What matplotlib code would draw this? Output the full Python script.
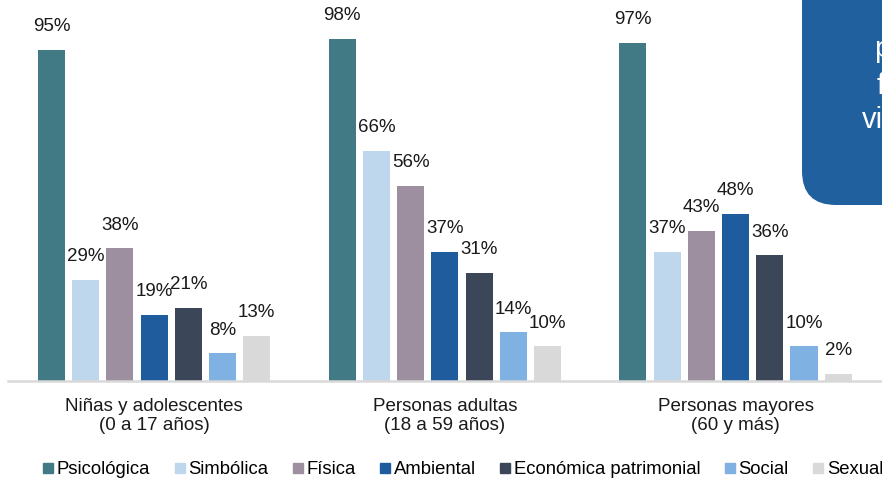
import matplotlib

matplotlib.use("Agg")
import matplotlib.pyplot as plt
import numpy as np
from matplotlib.lines import Line2D
from matplotlib.patches import FancyBboxPatch

plt.rcParams["font.family"] = ["Liberation Sans", "DejaVu Sans"]

groups = ["Niñas y adolescentes\n(0 a 17 años)",
          "Personas adultas\n(18 a 59 años)",
          "Personas mayores\n(60 y más)"]
series = ["Psicológica", "Simbólica", "Física", "Ambiental",
          "Económica patrimonial", "Social", "Sexual"]
colors = ["#417A84", "#BFD7ED", "#9E8FA0", "#1F5C9E",
          "#3B4658", "#80B1E3", "#D9D9D9"]
values = [
    [95, 98, 97],   # Psicológica
    [29, 66, 37],   # Simbólica
    [38, 56, 43],   # Física
    [19, 37, 48],   # Ambiental
    [21, 31, 36],   # Económica patrimonial
    [8, 14, 10],    # Social
    [13, 10, 2],    # Sexual
]


def plot():
    fig = plt.figure(figsize=(8.82, 4.79), dpi=100)
    ax = fig.add_axes((8 / 882, 98 / 479, 874 / 882, 381 / 479))

    group_step = 8.5
    gx = np.arange(len(groups)) * group_step
    for j, (name, col) in enumerate(zip(series, colors)):
        bars = ax.bar(gx + j, values[j], width=0.79, color=col, label=name)
        ax.bar_label(bars, fmt="%d%%", padding=10.5, fontsize=13.5,
                     color="#1a1a1a")

    ax.set_xlim(-1.27, 24.28)
    ax.set_ylim(0, 109.2)
    ax.set_xticks(gx + 3, groups, fontsize=13.5, color="#1a1a1a")
    ax.tick_params(axis="x", length=0, pad=12)
    ax.set_yticks([])
    for s in ["top", "right", "left"]:
        ax.spines[s].set_visible(False)
    ax.spines["bottom"].set_color("#D9D9D9")
    ax.spines["bottom"].set_linewidth(1.8)

    handles = [Line2D([], [], marker="s", ls="", color=c, markersize=6.5)
               for c in colors]
    fig.legend(handles, series, loc="center left",
               bbox_to_anchor=(44 / 882, 1 - 470 / 479), ncol=7,
               frameon=False, fontsize=13.3, handlelength=0.48,
               handletextpad=0.22, columnspacing=1.36, borderpad=0,
               borderaxespad=0)

    # blue call-out box cut off at the top right corner
    over = fig.add_axes((0, 0, 1, 1), zorder=10)
    over.set_xlim(0, 882)
    over.set_ylim(479, 0)
    over.axis("off")
    over.patch.set_alpha(0)
    over.add_patch(FancyBboxPatch((802, -80), 250, 285,
                                  boxstyle="round,pad=0,rounding_size=34",
                                  fc="#20609F", ec="none"))
    for txt, x, y in [("p", 874, 57), ("f", 877, 94), ("vi", 862, 128)]:
        over.text(x, y, txt, color="white", fontsize=21, ha="left",
                  va="baseline")

    plt.savefig("out.png", dpi=100)
    plt.close()


if __name__ == "__main__":
    plot()
